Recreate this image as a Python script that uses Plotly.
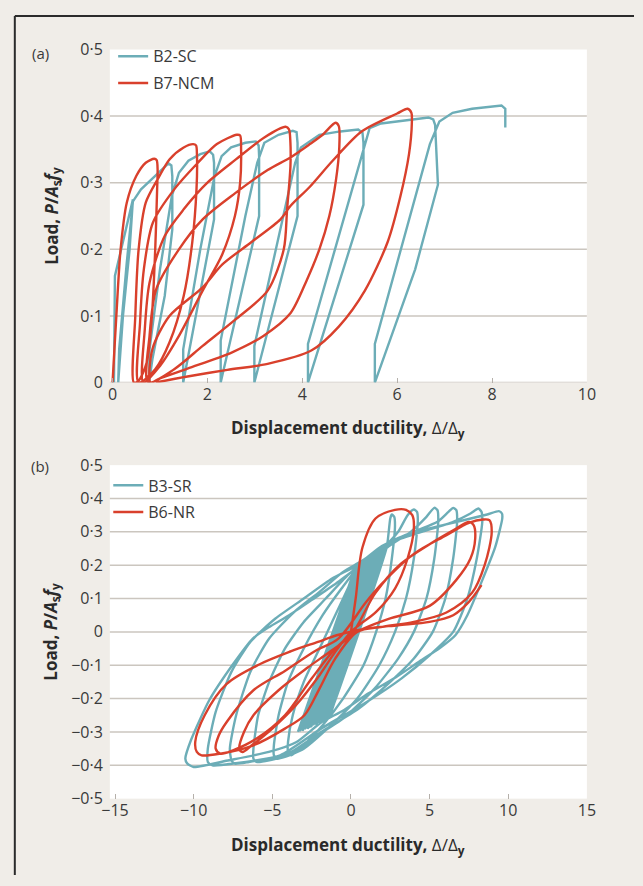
import plotly.graph_objects as go

TEAL = "#6cadb7"
RED = "#d9402c"
BG = "#f0ede8"
GRID = "#cbc6bf"
TXT = "#3a3a3a"
W, H = 643, 886

# ---------------- Panel (a) data ----------------
a_b2sc_x = [0.03, 0.05, 0.43, 0.36, 0.22, 0.12, 0.14, 0.30, 0.43, 0.6, 0.85, 1.05, 1.18, 1.24, 1.26, 1.26, 1.1, 0.84, 0.77,
            0.78, 1.0, 1.25, 1.4, 1.6, 1.85, 2.05, 2.12, 2.14, 2.14, 1.49,
            1.49, 1.85, 2.15, 2.3, 2.5, 2.8, 3.02, 3.08, 3.09, 3.09, 2.28,
            2.28, 2.8, 3.05, 3.2, 3.5, 3.8, 3.88, 3.9, 3.9, 2.99,
            2.99, 3.85, 3.97, 4.36, 4.8, 5.18, 5.27, 5.29, 5.29, 4.12,
            4.12, 5.25, 5.42, 5.66, 6.21, 6.66, 6.76, 6.8, 6.86, 6.38, 5.53,
            5.53, 6.69, 6.89, 7.17, 7.58, 8.2, 8.28, 8.28]
a_b2sc_y = [0.0, 0.16, 0.275, 0.2, 0.1, 0.0, 0.05, 0.18, 0.272, 0.29, 0.307, 0.32, 0.329, 0.326, 0.31, 0.23, 0.13, 0.035, 0.0,
            0.05, 0.17, 0.28, 0.315, 0.333, 0.343, 0.347, 0.342, 0.33, 0.245, 0.0,
            0.05, 0.2, 0.31, 0.34, 0.353, 0.36, 0.362, 0.356, 0.34, 0.25, 0.0,
            0.063, 0.25, 0.33, 0.36, 0.372, 0.378, 0.376, 0.36, 0.25, 0.0,
            0.055, 0.33, 0.353, 0.372, 0.377, 0.38, 0.375, 0.36, 0.267, 0.0,
            0.058, 0.343, 0.382, 0.389, 0.394, 0.398, 0.395, 0.387, 0.297, 0.17, 0.0,
            0.058, 0.358, 0.392, 0.405, 0.411, 0.416, 0.411, 0.383]

a_b7ncm_x = [0.0, 0.08, 0.17, 0.3, 0.5, 0.7, 0.88,
             0.93, 0.95, 0.94, 0.9, 0.83, 0.72, 0.55, 0.45,
             0.48, 0.55, 0.7, 0.95, 1.2, 1.5, 1.7,
             1.76, 1.78, 1.77, 1.68, 1.5, 1.2, 0.9, 0.55,
             0.58, 0.66, 0.85, 1.3, 1.8, 2.2, 2.62,
             2.69, 2.71, 2.69, 2.58, 2.31, 1.9, 1.4, 1.0, 0.65,
             0.68, 0.78, 1.1, 1.5, 2.0, 2.6, 3.2, 3.65,
             3.72, 3.75, 3.75, 3.68, 3.61, 3.27, 2.58, 1.9, 1.3, 0.75,
             0.78, 0.92, 1.4, 1.9, 2.58, 3.27, 3.75, 4.16, 4.43, 4.7,
             4.77, 4.78, 4.71, 4.57, 4.36, 4.09, 3.75, 3.18, 2.51, 1.58, 0.99, 0.8,
             0.84, 1.2, 1.9, 2.31, 2.93, 3.54, 3.75, 4.16, 4.64, 5.25, 6.0, 6.22,
             6.3, 6.31, 6.25, 6.07, 5.8, 5.32, 4.77, 4.19, 3.27, 2.42, 1.58, 0.91]
a_b7ncm_y = [0.0, 0.1, 0.2, 0.27, 0.31, 0.33, 0.336,
             0.334, 0.32, 0.29, 0.2, 0.1, 0.03, 0.003, 0.0,
             0.1, 0.2, 0.27, 0.305, 0.335, 0.353, 0.358,
             0.356, 0.34, 0.29, 0.21, 0.13, 0.06, 0.02, 0.0,
             0.09, 0.17, 0.24, 0.29, 0.33, 0.358, 0.372,
             0.371, 0.35, 0.30, 0.25, 0.192, 0.138, 0.07, 0.025, 0.0,
             0.08, 0.15, 0.22, 0.26, 0.3, 0.335, 0.368, 0.384,
             0.38, 0.36, 0.324, 0.26, 0.2, 0.138, 0.094, 0.055, 0.02, 0.0,
             0.07, 0.14, 0.2, 0.245, 0.284, 0.319, 0.338, 0.358, 0.372, 0.39,
             0.385, 0.353, 0.304, 0.25, 0.2, 0.153, 0.104, 0.07, 0.045, 0.021, 0.006, 0.0,
             0.05, 0.1, 0.143, 0.177, 0.211, 0.245, 0.265, 0.294, 0.333, 0.377, 0.404, 0.411,
             0.405, 0.39, 0.343, 0.28, 0.211, 0.138, 0.084, 0.048, 0.028, 0.019, 0.009, 0.0]

# ---------------- Panel (b) data ----------------
# dense band of small cycles (alternating lower/upper reversal points)
b3_band_lo_x = [-3.37, -3.27, -3.16, -3.05, -2.95, -2.84, -2.73, -2.62, -2.52, -2.41, -2.3, -2.19, -2.08, -1.98,
                -1.87, -1.76, -1.65, -1.54, -1.44, -1.35]
b3_band_lo_y = [-0.3, -0.298, -0.296, -0.294, -0.292, -0.29, -0.288, -0.285, -0.283, -0.28, -0.278, -0.276, -0.273,
                -0.27, -0.268, -0.265, -0.262, -0.26, -0.257, -0.255]
b3_band_up_x = [0.33, 0.43, 0.53, 0.63, 0.73, 0.83, 0.93, 1.03, 1.13, 1.23, 1.33, 1.43, 1.53, 1.63,
                1.73, 1.83, 1.93, 2.03, 2.14, 2.27]
b3_band_up_y = [0.2, 0.203, 0.206, 0.209, 0.212, 0.215, 0.218, 0.221, 0.224, 0.227, 0.23, 0.233, 0.236, 0.239,
                0.242, 0.244, 0.246, 0.248, 0.25, 0.253]

b3_loops_x = [2.4, 2.5, 2.6, 2.75, 2.8, 2.6, 2.2, 1.6, 0.8, -0.5, -1.8, -2.8, -3.5, -3.8, -4.0, -4.0, -3.7, -3.0, -2.0, -1.0, 0.0, 0.5, 1.2,
              2.0, 3.0, 3.6, 4.0, 4.2, 4.25, 4.0, 3.5, 2.8, 1.8, 0.4, -1.5, -3.0, -4.2, -4.7, -4.9, -4.9, -4.6, -4.0, -3.0, -1.8, -0.6, 0.4, 1.5,
              2.5, 3.8, 4.8, 5.3, 5.5, 5.55, 5.3, 4.8, 4.0, 3.0, 1.5, -0.5, -1.8, -3.5, -5.2, -6.0, -6.2, -6.2, -5.9, -5.2, -4.2, -3.0, -1.6, -0.2, 0.8,
              2.5, 4.0, 5.5, 6.2, 6.5, 6.7, 6.75, 6.5, 6.0, 5.2, 4.0, 2.5, 0.5, -1.9, -4.0, -6.5, -7.4, -7.6, -7.7, -7.3, -6.4, -5.2, -3.6, -2.0, -0.5, 0.6,
              2.6, 4.5, 6.5, 7.6, 8.1, 8.3, 8.35, 8.0, 7.4, 6.5, 5.0, 3.2, 1.0, -1.9, -4.5, -7.5, -8.8, -9.1, -9.1, -8.6, -7.6, -6.4, -4.8, -3.0, -1.2, 0.4,
              1.85, 3.61, 6.13, 8.66, 9.4, 9.6, 9.62, 9.17, 8.28, 7.4, 6.64, 5.63, 4.37, 2.86, 1.09, -0.43, -1.94, -3.46, -5.22, -7.75, -10.0, -10.4,
              -10.53, -10.15, -9.01, -7.5, -6.24, -5.22, -3.96, -2.45, -0.93, 0.33]
b3_loops_y = [0.3, 0.34, 0.352, 0.345, 0.32, 0.22, 0.1, 0.0, -0.1, -0.2, -0.28, -0.33, -0.36, -0.37, -0.36, -0.33, -0.25, -0.15, -0.05, 0.05, 0.15, 0.2, 0.22,
              0.25, 0.3, 0.35, 0.367, 0.36, 0.33, 0.22, 0.1, 0.0, -0.1, -0.2, -0.29, -0.35, -0.375, -0.38, -0.37, -0.34, -0.25, -0.15, -0.05, 0.05, 0.13, 0.19, 0.225,
              0.26, 0.3, 0.345, 0.372, 0.365, 0.33, 0.22, 0.1, 0.0, -0.08, -0.17, -0.26, -0.3, -0.36, -0.385, -0.39, -0.38, -0.35, -0.25, -0.15, -0.05, 0.03, 0.1, 0.17, 0.21,
              0.265, 0.3, 0.33, 0.36, 0.372, 0.365, 0.33, 0.22, 0.1, 0.0, -0.08, -0.15, -0.23, -0.3, -0.365, -0.39, -0.395, -0.385, -0.35, -0.25, -0.12, -0.02, 0.06, 0.12, 0.18, 0.21,
              0.27, 0.3, 0.33, 0.355, 0.37, 0.36, 0.33, 0.22, 0.1, 0.0, -0.07, -0.14, -0.21, -0.29, -0.37, -0.395, -0.4, -0.39, -0.35, -0.24, -0.12, -0.03, 0.04, 0.1, 0.16, 0.2,
              0.254, 0.293, 0.323, 0.352, 0.362, 0.355, 0.34, 0.254, 0.147, 0.05, -0.01, -0.049, -0.088, -0.136, -0.185, -0.234, -0.273, -0.33, -0.36, -0.385, -0.405, -0.395,
              -0.38, -0.322, -0.205, -0.097, -0.02, 0.014, 0.049, 0.097, 0.146, 0.19]

b6nr_x = [0.0, 0.3, 0.73, 1.56, 2.8, 3.5, 3.9, 4.0, 3.6, 2.8, 1.6, 0.5, 0.0,
          -1.0, -2.0, -3.5, -5.0, -6.3, -6.9, -7.1, -6.8, -6.2, -4.6, -2.75, -1.3, 0.0,
          1.56, 3.2, 5.0, 6.7, 7.5, 7.8, 7.9, 7.6, 6.7, 5.0, 2.4, 0.8, 0.0,
          -1.0, -2.5, -4.2, -6.0, -7.5, -8.3, -8.6, -8.4, -7.9, -6.2, -4.2, -2.3, -0.8,
          0.94, 2.0, 4.0, 6.07, 7.5, 8.4, 8.8, 8.95, 8.5, 7.7, 6.07, 4.0, 2.0, 0.4,
          -1.0, -2.0, -2.96, -4.2, -6.2, -8.3, -9.5, -9.8, -9.9, -9.3, -7.9, -5.8, -3.8, -2.1, -0.9,
          1.0, 3.0, 5.0, 6.5, 7.5, 8.3]
b6nr_y = [0.0, 0.1, 0.253, 0.34, 0.366, 0.366, 0.35, 0.31, 0.22, 0.13, 0.06, 0.02, 0.0,
          -0.06, -0.13, -0.22, -0.29, -0.34, -0.36, -0.35, -0.3, -0.25, -0.175, -0.107, -0.058, -0.01,
          0.117, 0.205, 0.263, 0.31, 0.33, 0.32, 0.28, 0.22, 0.156, 0.078, 0.039, 0.01, -0.01,
          -0.05, -0.14, -0.25, -0.32, -0.355, -0.365, -0.35, -0.31, -0.27, -0.175, -0.117, -0.058, -0.02,
          0.088, 0.146, 0.234, 0.29, 0.327, 0.337, 0.335, 0.3, 0.2, 0.117, 0.058, 0.03, 0.015, 0.0,
          -0.08, -0.17, -0.25, -0.29, -0.34, -0.365, -0.37, -0.36, -0.33, -0.25, -0.156, -0.097, -0.058, -0.03, -0.01,
          0.01, 0.02, 0.03, 0.05, 0.09, 0.14]

# ---------------- axes / labels ----------------
a_yticks = [0, 0.1, 0.2, 0.3, 0.4, 0.5]
a_yticktext = ["0", "0·1", "0·2", "0·3", "0·4", "0·5"]
a_grid = [0, 0.1, 0.2, 0.3, 0.4]
a_xticks = [0, 2, 4, 6, 8, 10]
b_yticks = [-0.5, -0.4, -0.3, -0.2, -0.1, 0, 0.1, 0.2, 0.3, 0.4, 0.5]
b_yticktext = ["−0·5", "−0·4", "−0·3", "−0·2", "−0·1", "0", "0·1", "0·2", "0·3", "0·4", "0·5"]
b_grid = [-0.4, -0.3, -0.2, -0.1, 0, 0.1, 0.2, 0.3, 0.4]
b_xticks = [-15, -10, -5, 0, 5, 10, 15]
b_xticktext = ["−15", "−10", "−5", "0", "5", "10", "15"]

# build band zig-zag from reversal lists
band_x, band_y = [], []
for lx, ly, ux, uy in zip(b3_band_lo_x, b3_band_lo_y, b3_band_up_x, b3_band_up_y):
    band_x += [lx, ux]
    band_y += [ly, uy]
b3_x = band_x + b3_loops_x
b3_y = band_y + b3_loops_y

fig = go.Figure()
LW = 2.4
fig.add_trace(go.Scatter(x=a_b2sc_x, y=a_b2sc_y, mode="lines", name="B2-SC",
                         line=dict(color=TEAL, width=LW), xaxis="x", yaxis="y", legend="legend",
                         legendgroup="a1"))
fig.add_trace(go.Scatter(x=a_b7ncm_x, y=a_b7ncm_y, mode="lines", name="B7-NCM",
                         line=dict(color=RED, width=LW, shape="spline", smoothing=0.8), xaxis="x", yaxis="y",
                         legend="legend", legendgroup="a2"))
fig.add_trace(go.Scatter(x=b3_x, y=b3_y, mode="lines", name="B3-SR",
                         line=dict(color=TEAL, width=LW, shape="spline", smoothing=0.6), xaxis="x2", yaxis="y2",
                         legend="legend2", legendgroup="b1"))
fig.add_trace(go.Scatter(x=b6nr_x, y=b6nr_y, mode="lines", name="B6-NR",
                         line=dict(color=RED, width=LW, shape="spline", smoothing=0.9), xaxis="x2", yaxis="y2",
                         legend="legend2", legendgroup="b2"))

xdom = [104.6 / W, 594.6 / W]
ya_dom = [1 - 381 / H, 1 - 39.5 / H]
yb_dom = [1 - 807.7 / H, 1 - 465.7 / H]

tickfont = dict(family="Open Sans, sans-serif", size=16, color=TXT)
common_x = dict(showgrid=False, zeroline=False, showline=False, ticks="inside", ticklen=5,
                tickcolor="#b5b0aa", tickwidth=1, tickfont=tickfont, fixedrange=True)
common_y = dict(showgrid=False, zeroline=False, showline=False, ticks="", tickfont=tickfont,
                ticklabelstandoff=6, fixedrange=True)

shapes = []
for g in a_grid:
    shapes.append(dict(type="line", xref="x domain", yref="y", x0=0, x1=1, y0=g, y1=g,
                       line=dict(color=GRID, width=1.5), layer="below"))
for g in b_grid:
    shapes.append(dict(type="line", xref="x2 domain", yref="y2", x0=0, x1=1, y0=g, y1=g,
                       line=dict(color=GRID, width=1.5), layer="below"))
# frame lines of the figure box
shapes.append(dict(type="line", xref="paper", yref="paper", x0=7 / W, x1=1, y0=1 - 5 / H, y1=1 - 5 / H,
                   line=dict(color="#2b2b2b", width=2)))
shapes.append(dict(type="line", xref="paper", yref="paper", x0=7 / W, x1=7 / W, y0=0, y1=1 - 5 / H,
                   line=dict(color="#2b2b2b", width=2)))

titlefont = dict(family="Open Sans, sans-serif", size=17, color="#2a2a2a")
ytitle = "<b>Load, <i>P</i>/<i>A</i><sub>s</sub><i>f</i><sub>y</sub></b>"
xtitle = "<b>Displacement ductility,</b> Δ/Δ<sub><b>y</b></sub>"

annotations = []
for (ycen, lab, xcen_y) in [((39.5 + 381) / 2, "(a)", 43), ((465.7 + 807.7) / 2, "(b)", 467)]:
    annotations.append(dict(x=45 / W, y=1 - ycen / H, xref="paper", yref="paper", text=ytitle,
                            textangle=-90, showarrow=False, font=titlefont, xanchor="center", yanchor="middle"))
    annotations.append(dict(x=33 / W, y=1 - xcen_y / H, xref="paper", yref="paper", text=lab,
                            showarrow=False, font=dict(family="Open Sans, sans-serif", size=15, color=TXT),
                            xanchor="center", yanchor="middle"))
for ty in [428, 856]:
    annotations.append(dict(x=349.6 / W, y=1 - ty / H, xref="paper", yref="paper", text=xtitle,
                            showarrow=False, font=titlefont, xanchor="center", yanchor="middle"))

legfont = dict(family="Open Sans, sans-serif", size=16, color=TXT)
fig.update_layout(
    width=W, height=H, autosize=False,
    margin=dict(l=0, r=0, t=0, b=0),
    paper_bgcolor=BG, plot_bgcolor="white",
    showlegend=True,
    xaxis=dict(domain=xdom, range=[-0.057, 10], tickvals=a_xticks, anchor="y", **common_x),
    yaxis=dict(domain=ya_dom, range=[0, 0.5], tickvals=a_yticks, ticktext=a_yticktext, anchor="x", **common_y),
    xaxis2=dict(domain=xdom, range=[-15.33, 15], tickvals=b_xticks, ticktext=b_xticktext, anchor="y2", **common_x),
    yaxis2=dict(domain=yb_dom, range=[-0.5, 0.5], tickvals=b_yticks, ticktext=b_yticktext, anchor="x2", **common_y),
    legend=dict(x=108 / W, y=1 - 29 / H, xanchor="left", yanchor="top", bgcolor="rgba(0,0,0,0)",
                font=legfont, itemwidth=30, traceorder="grouped", tracegroupgap=3),
    legend2=dict(x=103 / W, y=1 - 469 / H, xanchor="left", yanchor="top", bgcolor="rgba(0,0,0,0)",
                 font=legfont, itemwidth=30, traceorder="grouped", tracegroupgap=3),
    shapes=shapes, annotations=annotations,
)

fig.write_html("out.html", config={"displayModeBar": False},
               post_script="document.body.style.margin='0';document.body.style.overflow='hidden';")
